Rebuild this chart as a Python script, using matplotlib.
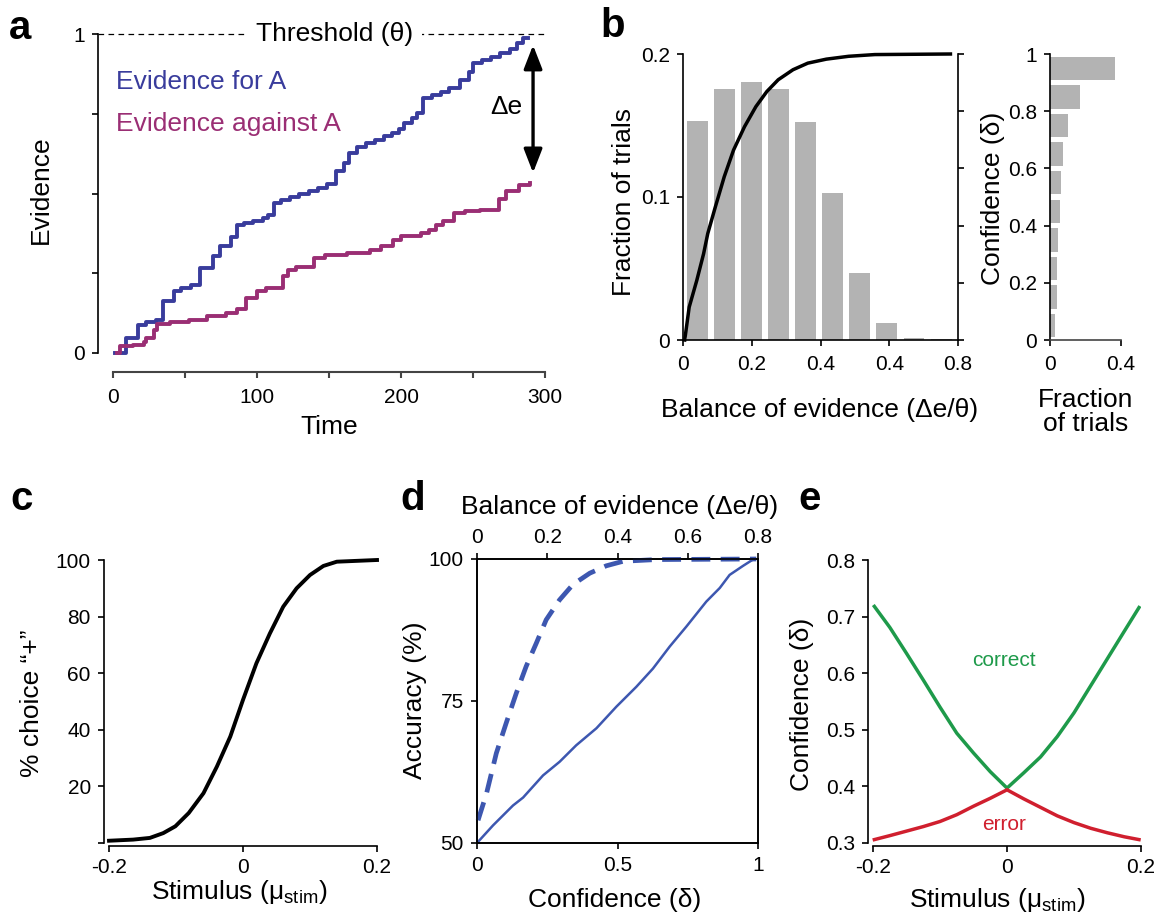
import numpy as np
import matplotlib
matplotlib.use('Agg')
import matplotlib.pyplot as plt

plt.rcParams['font.family'] = ['Liberation Sans', 'DejaVu Sans']
plt.rcParams['mathtext.fontset'] = 'custom'
plt.rcParams['mathtext.rm'] = 'Liberation Sans'
plt.rcParams['axes.linewidth'] = 1.2
plt.rcParams['xtick.direction'] = 'out'
plt.rcParams['ytick.direction'] = 'out'

# ---- data ----
# a: accumulated evidence, step traces
blue_t = [1.3, 9.0, 17.2, 23, 29.5, 34.6, 42.3, 47.4, 53.8, 60.2, 69.2, 74.3, 82, 85.8,
          90.9, 97.4, 103.8, 107.6, 111.5, 116.6, 123, 129.4, 135.8, 142.2, 148.6, 155,
          160.1, 164, 169.1, 175.5, 181.9, 188.3, 193.4, 198.6, 202.4, 207.5, 211.4,
          215.2, 221.6, 228, 233.2, 240.9, 247.2, 249.8, 256.2, 262.6, 269, 275.4,
          280.5, 284.4, 288.2]
blue_y = [0, 0.047, 0.089, 0.096, 0.102, 0.162, 0.193, 0.204, 0.214, 0.266, 0.303, 0.334,
          0.365, 0.402, 0.409, 0.415, 0.423, 0.433, 0.470, 0.480, 0.489, 0.498, 0.508,
          0.517, 0.529, 0.569, 0.595, 0.626, 0.647, 0.658, 0.668, 0.681, 0.691, 0.701,
          0.720, 0.736, 0.752, 0.799, 0.809, 0.817, 0.830, 0.856, 0.882, 0.908, 0.919,
          0.929, 0.939, 0.952, 0.971, 0.988, 0.988]
mag_t = [2.6, 5.1, 14.1, 21.8, 23, 28.2, 30.7, 39.7, 52.5, 65.3, 78.1, 85.8, 92.2, 99.9,
         106.3, 117.9, 121.7, 126.8, 139.6, 147.3, 162.7, 178.1, 185.8, 194.7, 199.9,
         214, 219.1, 224.2, 229.3, 237, 244.7, 254.9, 267.7, 272.9, 281.8, 289.5]
mag_y = [0, 0.021, 0.026, 0.033, 0.047, 0.073, 0.092, 0.096, 0.102, 0.115, 0.125, 0.138,
         0.172, 0.193, 0.204, 0.240, 0.261, 0.271, 0.298, 0.308, 0.313, 0.322, 0.334,
         0.353, 0.367, 0.376, 0.386, 0.402, 0.415, 0.438, 0.444, 0.449, 0.482, 0.509,
         0.527, 0.532]

# b: histogram of balance of evidence + cumulative curve
bal_centers = [0.041, 0.12, 0.2, 0.277, 0.356, 0.435, 0.514, 0.593, 0.672, 0.751]
bal_frac = [0.1532, 0.1757, 0.1806, 0.1757, 0.1523, 0.1029, 0.0466, 0.0122, 0.0016, 0.0009]
cdf_x = [0.005, 0.018, 0.04, 0.06, 0.072, 0.094, 0.12, 0.147, 0.179, 0.212, 0.244, 0.277,
         0.32, 0.363, 0.417, 0.482, 0.558, 0.778]
cdf_y = [0, 0.115, 0.208, 0.302, 0.372, 0.465, 0.571, 0.664, 0.746, 0.816, 0.869, 0.91,
         0.945, 0.968, 0.982, 0.992, 0.998, 1.0]
conf_centers = [0.05, 0.15, 0.25, 0.35, 0.45, 0.55, 0.65, 0.75, 0.85, 0.95]
conf_frac = [0.027, 0.039, 0.039, 0.0435, 0.054, 0.060, 0.0725, 0.0995, 0.168, 0.365]

# c: psychometric curve
stim_c = [-0.2, -0.164, -0.139, -0.119, -0.101, -0.081, -0.059, -0.039, -0.019, 0,
          0.02, 0.04, 0.06, 0.08, 0.1, 0.12, 0.14, 0.2]
choice_c = [0.8, 1.2, 1.8, 3.5, 5.9, 10.6, 17.6, 27, 37.6, 50.6, 63.5, 74, 83.5, 90,
            94.7, 97.9, 99.4, 100]

# d: accuracy vs confidence (solid) and vs balance of evidence (dashed)
conf_d = [0, 0.057, 0.128, 0.164, 0.235, 0.294, 0.353, 0.425, 0.496, 0.567, 0.626,
          0.686, 0.745, 0.816, 0.864, 0.899, 0.947, 0.982]
acc_conf = [50, 53.1, 56.6, 58, 61.9, 64.3, 67.2, 70.2, 74, 77.5, 80.7, 84.6, 88.1,
            92.5, 94.9, 97.2, 98.8, 99.9]
bal_d = [0.003, 0.027, 0.055, 0.083, 0.112, 0.14, 0.169, 0.197, 0.235, 0.273, 0.321,
         0.368, 0.416, 0.51, 0.795]
acc_bal = [54, 58.7, 65.8, 71.1, 76.4, 81.1, 85.2, 89.3, 92.8, 95.5, 97.5, 98.8, 99.6,
           99.9, 100]

# e: confidence for correct and error trials
stim_e = [-0.198, -0.175, -0.15, -0.125, -0.1, -0.075, -0.05, -0.025, 0, 0.025, 0.05,
          0.075, 0.1, 0.125, 0.15, 0.175, 0.197]
conf_correct = [0.718, 0.681, 0.635, 0.588, 0.540, 0.494, 0.459, 0.426, 0.397, 0.424,
                0.452, 0.488, 0.530, 0.578, 0.626, 0.674, 0.716]
conf_error = [0.306, 0.313, 0.321, 0.329, 0.338, 0.350, 0.365, 0.379, 0.394, 0.378,
              0.363, 0.348, 0.336, 0.326, 0.318, 0.311, 0.306]

BLUE = '#393c9c'
MAGENTA = '#9a2e74'
DBLUE = '#3d57b0'
GREEN = '#1e9a4a'
RED = '#d01f2e'
GRAY = '#b3b3b3'
LAB = 19
TICK = 15
PANEL = 29

W, H = 1157, 918
fig = plt.figure(figsize=(W / 100, H / 100), dpi=100)


def box(r):
    l, t, rr, b = r
    return [l / W, 1 - b / H, (rr - l) / W, (b - t) / H]


def style(ax, xpad=5, ypad=5):
    ax.tick_params(labelsize=TICK, length=4.5, width=1.2)
    ax.tick_params(axis='x', pad=xpad)
    ax.tick_params(axis='y', pad=ypad)


def ylab(ax, r, text, px, py):
    l, t, rr, b = r
    ax.set_ylabel(text, fontsize=LAB, va='center', ha='center')
    ax.yaxis.set_label_coords((px - l) / (rr - l), (b - py) / (b - t))


def xlab(ax, r, text, px, py, **kw):
    l, t, rr, b = r
    ax.set_xlabel(text, fontsize=LAB, va='center', ha='center', **kw)
    ax.xaxis.set_label_coords((px - l) / (rr - l), (b - py) / (b - t))


# ---- panel a ----
ra = (98, 34, 545, 353)
ax = fig.add_axes(box(ra))
ax.plot(blue_t + [blue_t[-1] + 0.01], blue_y + [blue_y[-1]], drawstyle='steps-post',
        color=BLUE, lw=2.8, clip_on=False)
ax.plot(mag_t, mag_y, drawstyle='steps-post', color=MAGENTA, lw=2.8, clip_on=False)
ax.plot([-10.5, 300], [1, 1], color='k', lw=0.9, dashes=(4.5, 3.5), clip_on=False)
ax.text(154, 1, 'Threshold (\u03b8)', fontsize=LAB, ha='center', va='center',
        bbox=dict(fc='white', ec='none', pad=6))
ax.text(1.8, 0.85, 'Evidence for A', color=BLUE, fontsize=LAB, va='center')
ax.text(1.8, 0.718, 'Evidence against A', color=MAGENTA, fontsize=LAB, va='center')
ax.annotate('', xy=(291.7, 0.965), xytext=(291.7, 0.565),
            arrowprops=dict(arrowstyle='<|-|>,head_length=0.9,head_width=0.35',
                            mutation_scale=16, lw=2.4, color='k',
                            shrinkA=0, shrinkB=0))
ax.text(273, 0.77, '\u0394e', fontsize=LAB, ha='center', va='center')
ax.set_xlim(-10.5, 300)
ax.set_ylim(0, 1)
ax.spines[['top', 'right']].set_visible(False)
ax.spines['bottom'].set_position(('outward', 13.7))
ax.spines['bottom'].set_bounds(0, 300)
ax.spines['bottom'].set_color('#444444')
ax.spines['bottom'].set_linewidth(1.5)
ax.set_xticks(np.arange(0, 301, 50))
ax.set_xticklabels(['0', '', '100', '', '200', '', '300'])
ax.set_yticks([0, 0.25, 0.5, 0.75, 1])
ax.set_yticklabels(['0', '', '', '', '1'])
style(ax, xpad=7)
ax.tick_params(axis='x', color='#444444', width=1.5)
ylab(ax, ra, 'Evidence', 41, 190)
xlab(ax, ra, 'Time', 329, 427)

# ---- panel b ----
rb = (683, 54, 958, 340)
axb = fig.add_axes(box(rb))
axb.bar(bal_centers, bal_frac, width=0.061, color=GRAY)
axb.set_xlim(0, 0.8)
axb.set_ylim(0, 0.2)
axb.spines[['top', 'right']].set_visible(False)
axb.set_xticks([0, 0.2, 0.4, 0.6, 0.8])
axb.set_xticklabels(['0', '0.2', '0.4', '0.4', '0.8'])
axb.set_yticks([0, 0.1, 0.2])
axb.set_yticklabels(['0', '0.1', '0.2'])
style(axb, xpad=6)
ylab(axb, rb, 'Fraction of trials', 624, 202)
xlab(axb, rb, 'Balance of evidence (\u0394e/\u03b8)', 820, 410)

axc = axb.twinx()
axc.plot(cdf_x, cdf_y, color='k', lw=2.5, clip_on=False)
axc.set_ylim(0, 1)
axc.set_yticks(np.arange(0, 1.01, 0.2))
axc.set_yticklabels([])
axc.spines[['top', 'left', 'bottom']].set_visible(False)
axc.tick_params(axis='y', length=4.5, width=1.2)

rs = (1050, 54, 1121, 340)
axs = fig.add_axes(box(rs))
axs.barh(conf_centers, conf_frac, height=0.082, color=GRAY)
axs.set_xlim(0, 0.4)
axs.set_ylim(0, 1)
axs.spines[['top', 'right']].set_visible(False)
axs.spines['bottom'].set_color('#444444')
axs.set_xticks([0, 0.4])
axs.set_xticklabels(['0', '0.4'])
axs.set_yticks(np.arange(0, 1.01, 0.2))
axs.set_yticklabels(['0', '0.2', '0.4', '0.6', '0.8', '1'])
style(axs, xpad=6)
ylab(axs, rs, 'Confidence (\u03b4)', 993, 198)
xlab(axs, rs, 'Fraction\nof trials', 1086, 412, linespacing=1.05)

# ---- panel c ----
rc = (104, 560, 377, 843)
ax = fig.add_axes(box(rc))
ax.plot(stim_c, choice_c, color='k', lw=2.8, clip_on=False)
ax.set_xlim(-0.2075, 0.2)
ax.set_ylim(0, 100)
ax.spines[['top', 'right']].set_visible(False)
ax.spines['bottom'].set_position(('outward', 2.5))
ax.spines['bottom'].set_bounds(-0.2, 0.2)
ax.set_xticks([-0.2, 0, 0.2])
ax.set_xticklabels(['-0.2', '0', '0.2'])
ax.set_yticks([0, 20, 40, 60, 80, 100])
ax.set_yticklabels(['', '20', '40', '60', '80', '100'])
style(ax, xpad=4)
ylab(ax, rc, '% choice \u201c+\u201d', 32, 703)
xlab(ax, rc, r'Stimulus ($\mathregular{\mu_{stim}}$)', 239, 892)

# ---- panel d ----
rd = (477, 559, 758, 843)
ax = fig.add_axes(box(rd))
ax.plot(conf_d, acc_conf, color=DBLUE, lw=1.8)
ax.set_xlim(0, 1)
ax.set_ylim(50, 100)
ax.set_xticks([0, 0.5, 1])
ax.set_xticklabels(['0', '0.5', '1'])
ax.set_yticks([50, 75, 100])
style(ax, xpad=5)
ylab(ax, rd, 'Accuracy (%)', 415, 700)
xlab(ax, rd, 'Confidence (\u03b4)', 615, 900)
axt = ax.twiny()
axt.plot(bal_d, acc_bal, color=DBLUE, lw=3.4, ls=(0, (4, 2.2)), clip_on=False)
axt.set_xlim(0, 0.8)
axt.set_xticks([0, 0.2, 0.4, 0.6, 0.8])
axt.set_xticklabels(['0', '0.2', '0.4', '0.6', '0.8'])
axt.tick_params(labelsize=TICK, length=4.5, width=1.2, pad=4)
axt.set_xlabel('Balance of evidence (\u0394e/\u03b8)', fontsize=LAB, va='center')
axt.xaxis.set_label_coords((620 - 477) / (758 - 477), (843 - 507) / (843 - 559))

# ---- panel e ----
re = (868, 560, 1141, 843)
ax = fig.add_axes(box(re))
ax.plot(stim_e, conf_correct, color=GREEN, lw=2.5)
ax.plot(stim_e, conf_error, color=RED, lw=2.5)
ax.text(-0.005, 0.623, 'correct', color=GREEN, fontsize=15, ha='center', va='center')
ax.text(-0.005, 0.332, 'error', color=RED, fontsize=15, ha='center', va='center')
ax.set_xlim(-0.2075, 0.2)
ax.set_ylim(0.3, 0.8)
ax.spines[['top', 'right']].set_visible(False)
ax.spines['bottom'].set_position(('outward', 2))
ax.spines['bottom'].set_bounds(-0.2, 0.2)
ax.set_xticks([-0.2, 0, 0.2])
ax.set_xticklabels(['-0.2', '0', '0.2'])
ax.set_yticks([0.3, 0.4, 0.5, 0.6, 0.7, 0.8])
ax.set_yticklabels(['0.3', '0.4', '0.5', '0.6', '0.7', '0.8'])
style(ax, xpad=4)
ylab(ax, re, 'Confidence (\u03b4)', 802, 704)
xlab(ax, re, r'Stimulus ($\mathregular{\mu_{stim}}$)', 997, 900)

# panel letters
for letter, x, y in [('a', 9, 39), ('b', 600, 37), ('c', 10, 510), ('d', 400, 510),
                     ('e', 798, 510)]:
    fig.text(x / W, 1 - y / H, letter, fontsize=PANEL, fontweight='bold',
             ha='left', va='baseline')

fig.savefig('out.png', dpi=100)
